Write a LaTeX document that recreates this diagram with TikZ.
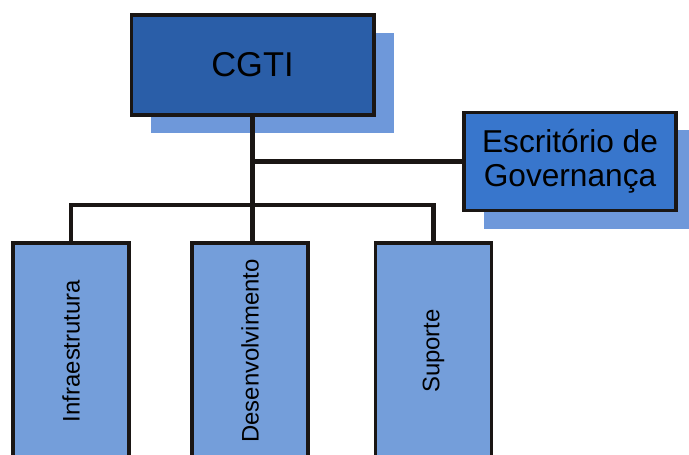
\documentclass[tikz,border=0pt]{standalone}
\usepackage{fontspec}
\setmainfont{Liberation Sans}
\usetikzlibrary{positioning,shadows}

\definecolor{darkblue}{RGB}{42,94,168}
\definecolor{midblue}{RGB}{56,118,204}
\definecolor{lightblue}{RGB}{116,158,218}
\definecolor{shadowblue}{RGB}{110,152,218}
\definecolor{linecol}{RGB}{26,22,20}

\tikzset{
  unitbox/.style={draw=linecol, line width=2.8pt, rectangle, inner sep=0pt, align=center},
  topbox/.style={unitbox, drop shadow={shadow xshift=0.5cm, shadow yshift=-0.45cm, fill=shadowblue, opacity=1}},
  link/.style={draw=linecol, line width=3.5pt}
}

\begin{document}
\begin{tikzpicture}[x=0.025cm, y=-0.025cm]
\useasboundingbox (0,0) rectangle (689,454);
\node[topbox, fill=darkblue, minimum width=6.05cm, minimum height=2.48cm,
  font=\fontsize{24.5}{28}\selectfont](cgti) at (252.5,65){CGTI};
\node[topbox, fill=midblue, minimum width=5.3cm, minimum height=2.45cm,
  font=\fontsize{22.5}{24}\selectfont](gov) at (570,161.5){Escrit\'orio de\\Governan\c{c}a};
\node[unitbox, fill=lightblue, minimum width=2.9cm, minimum height=5.4cm,
  font=\fontsize{17}{19}\selectfont](infra) at (71,351){\rotatebox{90}{Infraestrutura}};
\node[unitbox, fill=lightblue, minimum width=2.9cm, minimum height=5.4cm,
  font=\fontsize{17}{19}\selectfont](desenv) at (250,351){\rotatebox{90}{Desenvolvimento}};
\node[unitbox, fill=lightblue, minimum width=2.9cm, minimum height=5.4cm,
  font=\fontsize{17}{19}\selectfont](sup) at (433.5,351){\rotatebox{90}{Suporte}};
\coordinate (bar) at (cgti.south |- 0,205);
\path[link] (cgti.south) -- (cgti.south |- desenv.north);
\path[link] (cgti.south |- gov.west) -- (gov.west);
\path[link] (infra.north) |- (bar) -| (sup.north);
\end{tikzpicture}
\end{document}
